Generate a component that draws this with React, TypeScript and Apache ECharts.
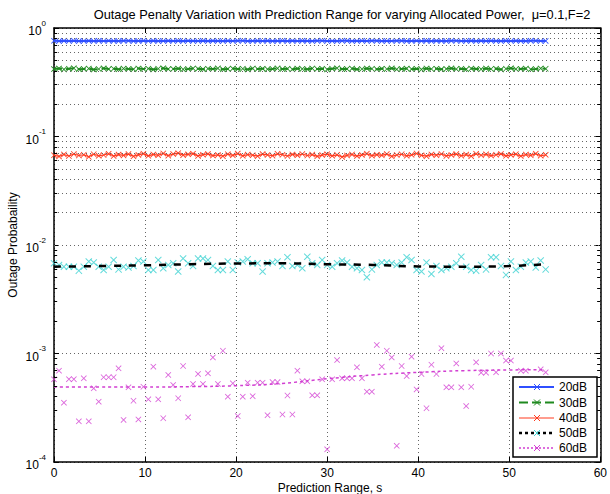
import React, { useEffect, useRef } from 'react';
import * as echarts from 'echarts';

const FONT = "'Liberation Sans', Arial, Helvetica, sans-serif";

const titleText = 'Outage Penalty Variation with Prediction Range for varying Allocated Power,  \u03bc=0.1,F=2';
const xAxisTitle = 'Prediction Range, s';
const yAxisTitle = 'Outage Probabaility';
const seriesNames = ['20dB', '30dB', '40dB', '50dB', '60dB'];
const xTicks = [0, 10, 20, 30, 40, 50, 60];

const predictionRange = [
  0.0, 0.55, 1.09, 1.64, 2.18, 2.73, 3.27, 3.82, 4.36, 4.91,
  5.45, 6.0, 6.55, 7.09, 7.64, 8.18, 8.73, 9.27, 9.82, 10.36,
  10.91, 11.45, 12.0, 12.55, 13.09, 13.64, 14.18, 14.73, 15.27, 15.82,
  16.36, 16.91, 17.45, 18.0, 18.55, 19.09, 19.64, 20.18, 20.73, 21.27,
  21.82, 22.36, 22.91, 23.45, 24.0, 24.55, 25.09, 25.64, 26.18, 26.73,
  27.27, 27.82, 28.36, 28.91, 29.45, 30.0, 30.55, 31.09, 31.64, 32.18,
  32.73, 33.27, 33.82, 34.36, 34.91, 35.45, 36.0, 36.55, 37.09, 37.64,
  38.18, 38.73, 39.27, 39.82, 40.36, 40.91, 41.45, 42.0, 42.55, 43.09,
  43.64, 44.18, 44.73, 45.27, 45.82, 46.36, 46.91, 47.45, 48.0, 48.55,
  49.09, 49.64, 50.18, 50.73, 51.27, 51.82, 52.36, 52.91, 53.45, 54.0,
];

const p20dB = [
  0.762, 0.758, 0.761, 0.759, 0.763, 0.757, 0.760, 0.762, 0.758, 0.761,
  0.759, 0.763, 0.760, 0.757, 0.761, 0.762, 0.758, 0.760, 0.763, 0.759,
  0.761, 0.757, 0.760, 0.762, 0.759, 0.761, 0.758, 0.763, 0.760, 0.759,
  0.762, 0.758, 0.761, 0.760, 0.757, 0.762, 0.759, 0.761, 0.763, 0.758,
  0.760, 0.762, 0.759, 0.761, 0.757, 0.760, 0.763, 0.758, 0.761, 0.759,
  0.762, 0.760, 0.758, 0.761, 0.763, 0.759, 0.760, 0.757, 0.762, 0.761,
  0.758, 0.760, 0.763, 0.759, 0.761, 0.762, 0.757, 0.760, 0.759, 0.762,
  0.761, 0.758, 0.760, 0.763, 0.759, 0.761, 0.757, 0.762, 0.760, 0.758,
  0.761, 0.763, 0.759, 0.760, 0.762, 0.758, 0.761, 0.759, 0.763, 0.760,
  0.757, 0.762, 0.759, 0.761, 0.760, 0.758, 0.762, 0.761, 0.759, 0.760,
];

const p30dB = [
  0.418, 0.424, 0.415, 0.421, 0.426, 0.417, 0.420, 0.423, 0.414, 0.419,
  0.425, 0.418, 0.421, 0.416, 0.423, 0.420, 0.417, 0.424, 0.419, 0.422,
  0.415, 0.421, 0.426, 0.418, 0.420, 0.423, 0.416, 0.419, 0.424, 0.421,
  0.417, 0.422, 0.419, 0.425, 0.416, 0.420, 0.423, 0.418, 0.421, 0.415,
  0.424, 0.419, 0.422, 0.417, 0.420, 0.425, 0.418, 0.421, 0.416, 0.423,
  0.420, 0.417, 0.424, 0.419, 0.422, 0.415, 0.421, 0.426, 0.418, 0.420,
  0.423, 0.416, 0.419, 0.424, 0.421, 0.417, 0.422, 0.419, 0.425, 0.416,
  0.420, 0.423, 0.418, 0.421, 0.415, 0.424, 0.419, 0.422, 0.417, 0.420,
  0.425, 0.418, 0.421, 0.416, 0.423, 0.420, 0.417, 0.424, 0.419, 0.422,
  0.415, 0.421, 0.426, 0.418, 0.420, 0.423, 0.416, 0.419, 0.424, 0.421,
];

const p40dB = [
  0.0672, 0.0655, 0.0683, 0.0661, 0.0690, 0.0668, 0.0679, 0.0650, 0.0686, 0.0664,
  0.0675, 0.0693, 0.0660, 0.0681, 0.0669, 0.0688, 0.0657, 0.0677, 0.0695, 0.0663,
  0.0684, 0.0671, 0.0698, 0.0666, 0.0689, 0.0702, 0.0673, 0.0685, 0.0695, 0.0662,
  0.0680, 0.0691, 0.0667, 0.0676, 0.0658, 0.0687, 0.0670, 0.0696, 0.0664, 0.0682,
  0.0673, 0.0659, 0.0688, 0.0676, 0.0665, 0.0692, 0.0679, 0.0661, 0.0684, 0.0670,
  0.0690, 0.0668, 0.0681, 0.0656, 0.0674, 0.0687, 0.0663, 0.0678, 0.0648, 0.0669,
  0.0683, 0.0660, 0.0676, 0.0694, 0.0666, 0.0680, 0.0671, 0.0689, 0.0657, 0.0675,
  0.0686, 0.0664, 0.0678, 0.0697, 0.0670, 0.0659, 0.0684, 0.0673, 0.0690, 0.0662,
  0.0677, 0.0688, 0.0665, 0.0681, 0.0658, 0.0693, 0.0672, 0.0685, 0.0667, 0.0679,
  0.0691, 0.0663, 0.0676, 0.0687, 0.0660, 0.0682, 0.0670, 0.0694, 0.0665, 0.0678,
];

const p50dB = [
  0.00678, 0.00655, 0.00631, 0.00631, 0.00631, 0.0058, 0.00631, 0.00705, 0.0069, 0.00631,
  0.00589, 0.00631, 0.00727, 0.00596, 0.00631, 0.0062, 0.0064, 0.0072, 0.00705, 0.00589,
  0.00589, 0.00727, 0.0061, 0.00655, 0.00678, 0.0057, 0.0075, 0.00678, 0.0064, 0.0075,
  0.0075, 0.00727, 0.0064, 0.00589, 0.00589, 0.00705, 0.00589, 0.0069, 0.00705, 0.0074,
  0.00678, 0.00678, 0.0057, 0.00678, 0.0069, 0.00705, 0.0064, 0.0077, 0.0064, 0.00655,
  0.0061, 0.0078, 0.00678, 0.00655, 0.00727, 0.00655, 0.00631, 0.00678, 0.0072, 0.0069,
  0.00631, 0.0061, 0.00589, 0.00504, 0.00596, 0.00655, 0.0069, 0.0069, 0.00678, 0.00655,
  0.0069, 0.0077, 0.00727, 0.00589, 0.0057, 0.0069, 0.0054, 0.0064, 0.00589, 0.0061,
  0.00631, 0.00678, 0.0078, 0.00631, 0.00589, 0.0058, 0.00655, 0.00596, 0.0077, 0.0077,
  0.0064, 0.0053, 0.00705, 0.00589, 0.00631, 0.0069, 0.00705, 0.0062, 0.0072, 0.00596,
];

const p60dB = [
  5.78e-4, 6.95e-4, 3.52e-4, 5.8e-4, 5.8e-4, 2.37e-4, 5.9e-4, 2.37e-4, 4.78e-4, 3.6e-4,
  6.04e-4, 6.04e-4, 6.04e-4, 7.3e-4, 2.44e-4, 4.88e-4, 3.67e-4, 2.47e-4, 4.94e-4, 3.78e-4,
  7.56e-4, 3.78e-4, 2.53e-4, 6.34e-4, 5.13e-4, 3.87e-4, 7.67e-4, 2.58e-4, 5.24e-4, 6.48e-4,
  5.24e-4, 6.56e-4, 9.2e-4, 5.24e-4, 1.06e-3, 4.0e-4, 5.31e-4, 2.65e-4, 4.0e-4, 5.38e-4,
  4.04e-4, 5.38e-4, 5.38e-4, 2.7e-4, 5.45e-4, 5.45e-4, 2.74e-4, 4.1e-4, 2.74e-4, 6.95e-4,
  5.54e-4, 5.54e-4, 4.12e-4, 4.12e-4, 5.78e-4, 1.31e-4, 5.78e-4, 8.7e-4, 5.9e-4, 5.9e-4,
  5.9e-4, 7.46e-4, 5.9e-4, 4.45e-4, 4.45e-4, 1.2e-3, 7.56e-4, 1.06e-3, 9.2e-4, 1.41e-4,
  7.67e-4, 6.2e-4, 9.35e-4, 4.67e-4, 6.47e-4, 3.13e-4, 7.88e-4, 6.47e-4, 1.12e-3, 4.88e-4,
  4.88e-4, 8.1e-4, 4.88e-4, 3.28e-4, 4.94e-4, 8.3e-4, 6.66e-4, 6.66e-4, 1.0e-3, 6.7e-4,
  1.0e-3, 8.6e-4, 8.6e-4, null, 6.95e-4, 6.95e-4, null, null, 7.15e-4, 6.7e-4,
];

const fitRange = [0, 5, 10, 15, 20, 25, 30, 35, 40, 45, 50, 54];
const fit50dB = [0.00631, 0.0064, 0.0065, 0.00665, 0.00675, 0.00678, 0.00665, 0.00655, 0.00635, 0.00631, 0.0064, 0.00665];
const fit60dB = [4.9e-4, 4.9e-4, 4.9e-4, 4.95e-4, 5.05e-4, 5.3e-4, 5.85e-4, 6.35e-4, 6.7e-4, 6.95e-4, 7.05e-4, 7.1e-4];

const COLORS = {
  b20: '#2f4fff',
  g30: '#1f8a1f',
  r40: '#ff3b1f',
  c50: '#3cd2d2',
  k50: '#000000',
  m60: '#d23fd2',
};

const X_SYMBOL = 'path://M0,1L1,0L5,4L9,0L10,1L6,5L10,9L9,10L5,6L1,10L0,9L4,5Z';

const pairs = (xs: number[], ys: (number | null)[]) =>
  xs.map((x, i) => [x, ys[i]]).filter((p) => p[1] !== null);

const minorValues: number[] = [];
for (let e = -4; e < 0; e++) {
  for (let k = 2; k <= 9; k++) minorValues.push(k * Math.pow(10, e));
}

function legendItem(i: number, y: number, line: any, marker: string) {
  const x0 = 519, x1 = 554, cx = 537;
  return [
    { type: 'line', shape: { x1: x0, y1: y, x2: x1, y2: y }, style: { stroke: line.color, lineWidth: line.width, lineDash: line.dash } },
    { type: 'line', shape: { x1: cx - 3, y1: y - 3, x2: cx + 3, y2: y + 3 }, style: { stroke: marker, lineWidth: 1 } },
    { type: 'line', shape: { x1: cx - 3, y1: y + 3, x2: cx + 3, y2: y - 3 }, style: { stroke: marker, lineWidth: 1 } },
    { type: 'text', x: 559, y, style: { text: seriesNames[i], font: `12px ${FONT}`, fill: '#000', textAlign: 'left', textVerticalAlign: 'middle' } },
  ];
}

export default function App() {
  const ref = useRef<HTMLDivElement>(null);
  useEffect(() => {
    const chart = echarts.init(ref.current!, null, { renderer: 'svg' });
    const axisLine = { show: true, onZero: false, lineStyle: { color: '#000', width: 1.5 } };
    const axisTick = { show: true, inside: true, length: 5, lineStyle: { color: '#000', width: 1 } };
    const splitLine = { show: true, lineStyle: { color: '#666', type: [1, 3], width: 1 } };

    const gridMarks: any[] = [];
    minorValues.forEach((v) => gridMarks.push({ yAxis: v }));
    const tickMarks: any[] = [];
    minorValues.forEach((v) => {
      tickMarks.push([{ coord: [0, v] }, { coord: [0.35, v] }]);
      tickMarks.push([{ coord: [59.65, v] }, { coord: [60, v] }]);
    });

    const legendLines = [
      { color: COLORS.b20, width: 2, dash: null, marker: COLORS.b20 },
      { color: COLORS.g30, width: 2, dash: [9, 4], marker: COLORS.g30 },
      { color: COLORS.r40, width: 1, dash: null, marker: COLORS.r40 },
      { color: COLORS.k50, width: 2.5, dash: [3, 3], marker: COLORS.c50 },
      { color: COLORS.m60, width: 1.5, dash: [2, 2], marker: COLORS.m60 },
    ];
    const legendYs = [387, 402.5, 418, 433, 448];
    const legendChildren: any[] = [
      { type: 'rect', shape: { x: 513, y: 377, width: 84, height: 80 }, style: { fill: '#fff', stroke: '#000', lineWidth: 1.5 } },
    ];
    legendLines.forEach((l, i) => legendChildren.push(...legendItem(i, legendYs[i], l, l.marker)));

    const option: any = {
      animation: false,
      backgroundColor: '#fff',
      grid: { left: 54, right: 5, top: 28, bottom: 32, show: false },
      xAxis: [
        {
          type: 'value', min: 0, max: 60, interval: 10, position: 'bottom',
          axisLine, axisTick,
          axisLabel: { color: '#000', fontSize: 12, fontFamily: FONT, margin: 5, formatter: (v: number) => (xTicks.includes(v) ? String(v) : '') },
          splitLine,
        },
        {
          type: 'value', min: 0, max: 60, interval: 10, position: 'top',
          axisLine, axisTick, axisLabel: { show: false }, splitLine: { show: false },
        },
      ],
      yAxis: [
        {
          type: 'log', logBase: 10, min: 0.0001, max: 1, position: 'left',
          axisLine, axisTick,
          axisLabel: {
            color: '#000', fontFamily: FONT, margin: 8,
            formatter: (v: number) => `{b|10}{s|${Math.round(Math.log10(v))}}`,
            rich: {
              b: { fontSize: 12, fontFamily: FONT, color: '#000', verticalAlign: 'bottom', lineHeight: 18 },
              s: { fontSize: 8, fontFamily: FONT, color: '#000', verticalAlign: 'top', lineHeight: 18 },
            },
          },
          splitLine,
        },
        {
          type: 'log', logBase: 10, min: 0.0001, max: 1, position: 'right',
          axisLine, axisTick, axisLabel: { show: false }, splitLine: { show: false },
        },
      ],
      series: [
        {
          type: 'line', name: 'grid', data: [], silent: true, z: 1,
          markLine: {
            silent: true, symbol: ['none', 'none'], label: { show: false },
            lineStyle: { color: '#666', type: [1, 3], width: 1 },
            emphasis: { disabled: true },
            data: gridMarks,
          },
        },
        {
          type: 'line', name: 'ticks', data: [], silent: true, z: 5,
          markLine: {
            silent: true, symbol: ['none', 'none'], label: { show: false },
            lineStyle: { color: '#000', type: 'solid', width: 1 },
            emphasis: { disabled: true },
            data: tickMarks,
          },
        },
        {
          type: 'line', name: seriesNames[0], data: pairs(predictionRange, p20dB), z: 3,
          symbol: X_SYMBOL, symbolSize: 6, showSymbol: true, showAllSymbol: true,
          lineStyle: { color: COLORS.b20, width: 2 }, itemStyle: { color: COLORS.b20 },
        },
        {
          type: 'line', name: seriesNames[1], data: pairs(predictionRange, p30dB), z: 3,
          symbol: X_SYMBOL, symbolSize: 6, showSymbol: true, showAllSymbol: true,
          lineStyle: { color: COLORS.g30, width: 2, type: [8, 4] }, itemStyle: { color: COLORS.g30 },
        },
        {
          type: 'line', name: seriesNames[2], data: pairs(predictionRange, p40dB), z: 3,
          symbol: X_SYMBOL, symbolSize: 6, showSymbol: true, showAllSymbol: true,
          lineStyle: { color: COLORS.r40, width: 1.2 }, itemStyle: { color: COLORS.r40 },
        },
        {
          type: 'scatter', name: seriesNames[3], data: pairs(predictionRange, p50dB), z: 3,
          symbol: X_SYMBOL, symbolSize: 7, itemStyle: { color: COLORS.c50 },
        },
        {
          type: 'line', name: seriesNames[3] + ' fit', data: pairs(fitRange, fit50dB), z: 4,
          symbol: 'none', smooth: true,
          lineStyle: { color: COLORS.k50, width: 2.5, type: [7, 8] },
        },
        {
          type: 'scatter', name: seriesNames[4], data: pairs(predictionRange, p60dB), z: 3,
          symbol: X_SYMBOL, symbolSize: 6, itemStyle: { color: COLORS.m60 },
        },
        {
          type: 'line', name: seriesNames[4] + ' fit', data: pairs(fitRange, fit60dB), z: 4,
          symbol: 'none', smooth: true,
          lineStyle: { color: COLORS.m60, width: 1.5, type: [3, 3] },
        },
      ],
      graphic: [
        { type: 'text', x: 342, y: 14, style: { text: titleText, font: `12.8px ${FONT}`, fill: '#000', textAlign: 'center', textVerticalAlign: 'middle' } },
        { type: 'text', x: 330, y: 488, style: { text: xAxisTitle, font: `12px ${FONT}`, fill: '#000', textAlign: 'center', textVerticalAlign: 'middle' } },
        { type: 'text', x: 13, y: 245, rotation: Math.PI / 2, style: { text: yAxisTitle, font: `12px ${FONT}`, fill: '#000', textAlign: 'center', textVerticalAlign: 'middle' } },
        { type: 'group', z: 100, children: legendChildren },
      ],
    };
    chart.setOption(option);
    return () => chart.dispose();
  }, []);
  return <div ref={ref} style={{ position: 'fixed', left: 0, top: 0, width: 610, height: 494, background: '#fff' }} />;
}
